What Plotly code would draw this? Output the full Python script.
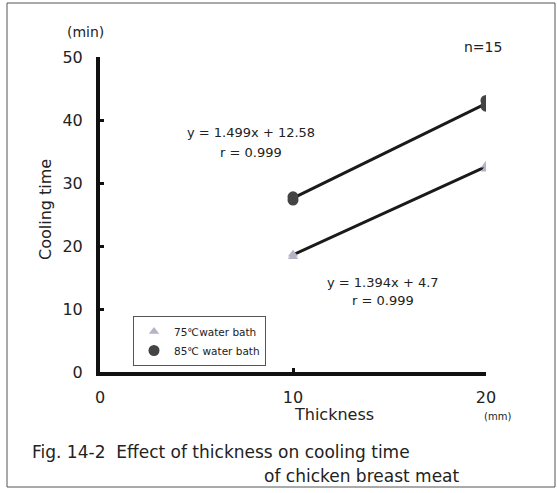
import plotly.graph_objects as go

# Data
thickness = [10, 20]
t75_points_x = [10, 10, 20, 20]
t75_points_y = [18.3, 18.7, 32.2, 32.8]
t85_points_x = [10, 10, 20, 20]
t85_points_y = [27.3, 27.8, 42.2, 43.1]
fit75 = [18.6, 32.6]
fit85 = [27.6, 42.6]
x_ticks = [0, 10, 20]
y_ticks = [0, 10, 20, 30, 40, 50]
eq75 = ["y = 1.394x + 4.7", "r = 0.999"]
eq85 = ["y = 1.499x + 12.58", "r = 0.999"]

FONT = "DejaVu Sans, sans-serif"
TXT = "#222222"

fig = go.Figure()
fig.add_trace(go.Scatter(x=thickness, y=fit85, mode="lines",
                         line=dict(color="#1a1a1a", width=3), showlegend=False, hoverinfo="skip"))
fig.add_trace(go.Scatter(x=thickness, y=fit75, mode="lines",
                         line=dict(color="#1a1a1a", width=3), showlegend=False, hoverinfo="skip"))
fig.add_trace(go.Scatter(x=t75_points_x, y=t75_points_y, mode="markers", name="75℃water bath",
                         marker=dict(symbol="triangle-up", size=9, color="#b4b4c4")))
fig.add_trace(go.Scatter(x=t85_points_x, y=t85_points_y, mode="markers", name="85℃ water bath",
                         marker=dict(symbol="circle", size=11, color="#444444")))

W, H = 557, 493
L, R, T, B = 100, 486, 57, 372
pw, ph = R - L, B - T

def px(x):
    return (x - L) / pw

def py(y):
    return (B - y) / ph

fig.update_layout(
    width=W, height=H,
    margin=dict(l=L, r=W - R, t=T, b=H - B),
    paper_bgcolor="white", plot_bgcolor="white",
    font=dict(family=FONT, color=TXT, size=14),
    showlegend=True,
    legend=dict(x=px(133), y=py(316), xanchor="left", yanchor="top",
                bordercolor="#555555", borderwidth=1, bgcolor="white",
                font=dict(size=10.5, family=FONT, color=TXT),
                itemwidth=30, tracegroupgap=0, traceorder="normal"),
    xaxis=dict(range=[0, 20], tickvals=x_ticks, showgrid=False, zeroline=False,
               showline=True, linecolor="#111111", linewidth=4,
               ticks="inside", ticklen=4, tickwidth=3, tickcolor="#111111",
               tickfont=dict(size=16, family=FONT, color=TXT), ticklabelstandoff=8),
    yaxis=dict(range=[0, 50], tickvals=y_ticks, showgrid=False, zeroline=False,
               showline=True, linecolor="#111111", linewidth=4,
               ticks="inside", ticklen=4, tickwidth=3, tickcolor="#111111",
               tickfont=dict(size=16, family=FONT, color=TXT), ticklabelstandoff=10),
)

ann = [
    dict(x=px(251), y=py(132), text=eq85[0], font=dict(size=13)),
    dict(x=px(251), y=py(152), text=eq85[1], font=dict(size=13)),
    dict(x=px(383), y=py(282), text=eq75[0], font=dict(size=13)),
    dict(x=px(383), y=py(300), text=eq75[1], font=dict(size=13)),
    dict(x=px(483), y=py(47), text="n=15", font=dict(size=14)),
    dict(x=px(85), y=py(32), text="(min)", font=dict(size=14)),
    dict(x=px(45), y=py(210), text="Cooling time", textangle=-90, font=dict(size=16)),
    dict(x=px(292), y=py(414), text="Thickness", xanchor="left", font=dict(size=16)),
    dict(x=px(497), y=py(416), text="(mm)", font=dict(size=10)),
    dict(x=px(30), y=py(452), text="Fig. 14-2  Effect of thickness on cooling time",
         xanchor="left", font=dict(size=17)),
    dict(x=px(462), y=py(476), text="of chicken breast meat", xanchor="right", font=dict(size=17)),
]
for a in ann:
    a.setdefault("xref", "paper")
    a.setdefault("yref", "paper")
    a["showarrow"] = False
    a.setdefault("xanchor", "center")
    a["yanchor"] = "middle"
    fig.add_annotation(**a)

fig.add_shape(type="rect", xref="paper", yref="paper",
              x0=px(7), x1=px(555), y0=py(487), y1=py(3),
              line=dict(color="#555555", width=1), layer="below")

fig.write_html("out.html")
